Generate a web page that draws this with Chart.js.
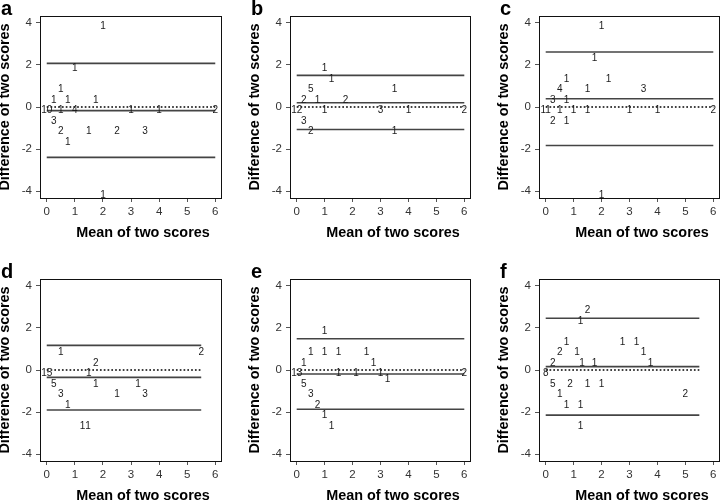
<!DOCTYPE html>
<html>
<head>
<meta charset="utf-8">
<script src="https://cdn.jsdelivr.net/npm/chart.js@4.4.1/dist/chart.umd.min.js"></script>
<style>
  body { margin: 0; background: #fff; }
  #wrap { position: relative; width: 721px; height: 501px; overflow: hidden; }
  canvas { position: absolute; }
</style>
</head>
<body>
<div id="wrap"></div>
<script>
// axis ticks shared by all six panels
const xTicks = [0, 1, 2, 3, 4, 5, 6];
const yTicks = [-4, -2, 0, 2, 4];

// panel a
const aMean  = [2, 1, 0.5, 0.25, 0.75, 1.75, 0, 0.5, 1, 3, 4, 6, 0.25, 0.5, 1.5, 2.5, 3.5, 0.75, 2];
const aDiff  = [4, 2, 1, 0.5, 0.5, 0.5, 0, 0, 0, 0, 0, 0, -0.5, -1, -1, -1, -1, -1.5, -4];
const aCount = [1, 1, 1, 1, 1, 1, 10, 1, 4, 1, 1, 2, 3, 2, 1, 2, 3, 1, 1];
const aLines = [2.07, -0.17, -2.39]; // upper limit, mean, lower limit

// panel b
const bMean  = [1, 1.25, 0.5, 3.5, 0.25, 0.75, 1.75, 0, 1, 3, 4, 6, 0.25, 0.5, 3.5];
const bDiff  = [2, 1.5, 1, 1, 0.5, 0.5, 0.5, 0, 0, 0, 0, 0, -0.5, -1, -1];
const bCount = [1, 1, 5, 1, 2, 1, 2, 12, 1, 3, 1, 2, 3, 2, 1];
const bLines = [1.50, 0.20, -1.07];

// panel c
const cMean  = [2, 1.75, 0.75, 2.25, 0.5, 1.5, 3.5, 0.25, 0.75, 0, 0.5, 1, 1.5, 3, 4, 6, 0.25, 0.75, 2];
const cDiff  = [4, 2.5, 1.5, 1.5, 1, 1, 1, 0.5, 0.5, 0, 0, 0, 0, 0, 0, 0, -0.5, -0.5, -4];
const cCount = [1, 1, 1, 1, 4, 1, 3, 3, 1, 11, 1, 1, 1, 1, 1, 2, 2, 1, 1];
const cLines = [2.61, 0.39, -1.83];

// panel d
const dMean  = [0.5, 5.5, 1.75, 0, 1.5, 0.25, 1.75, 3.25, 0.5, 2.5, 3.5, 0.75, 1.27, 1.47];
const dDiff  = [1, 1, 0.5, 0, 0, -0.5, -0.5, -0.5, -1, -1, -1, -1.5, -2.5, -2.5];
const dCount = [1, 2, 2, 15, 1, 5, 1, 1, 3, 1, 3, 1, 1, 1];
const dLines = [1.17, -0.35, -1.90];

// panel e
const eMean  = [1, 0.5, 1, 1.5, 2.5, 0.25, 2.75, 0, 1.5, 2.125, 3, 6, 3.25, 0.25, 0.5, 0.75, 1, 1.25];
const eDiff  = [2, 1, 1, 1, 1, 0.5, 0.5, 0, 0, 0, 0, 0, -0.25, -0.5, -1, -1.5, -2, -2.5];
const eCount = [1, 1, 1, 1, 1, 1, 1, 13, 1, 1, 1, 2, 1, 5, 3, 2, 1, 1];
const eLines = [1.48, -0.19, -1.86];

// panel f
const fMean  = [1.5, 1.25, 0.75, 2.75, 3.25, 0.5, 1.125, 3.5, 0.25, 1.3, 1.75, 3.75, 0, 0.25, 0.875, 1.5, 2, 0.5, 5, 0.75, 1.25, 1.25];
const fDiff  = [3, 2.5, 1.5, 1.5, 1.5, 1, 1, 1, 0.5, 0.5, 0.5, 0.5, 0, -0.5, -0.5, -0.5, -0.5, -1, -1, -1.5, -1.5, -2.5];
const fCount = [2, 1, 1, 1, 1, 2, 1, 1, 2, 1, 1, 1, 8, 5, 2, 1, 1, 1, 2, 1, 1, 1];
const fLines = [2.46, 0.16, -2.14];

const xTitle = 'Mean of two scores';
const yTitle = 'Difference of two scores';

// where each panel sits; box = chart area [left, top, right, bottom] inside its canvas
const panels = [
  { letter: 'a', mean: aMean, diff: aDiff, count: aCount, lines: aLines, xEnd: 6,   left: 0,   top: 0,   w: 240, h: 250, box: [40, 16, 222, 198] },
  { letter: 'b', mean: bMean, diff: bDiff, count: bCount, lines: bLines, xEnd: 6,   left: 240, top: 0,   w: 240, h: 250, box: [50, 16, 231, 198] },
  { letter: 'c', mean: cMean, diff: cDiff, count: cCount, lines: cLines, xEnd: 6,   left: 480, top: 0,   w: 241, h: 250, box: [59, 16, 240, 198] },
  { letter: 'd', mean: dMean, diff: dDiff, count: dCount, lines: dLines, xEnd: 5.5, left: 0,   top: 250, w: 240, h: 251, box: [40, 29, 222, 211] },
  { letter: 'e', mean: eMean, diff: eDiff, count: eCount, lines: eLines, xEnd: 6,   left: 240, top: 250, w: 240, h: 251, box: [50, 29, 231, 211] },
  { letter: 'f', mean: fMean, diff: fDiff, count: fCount, lines: fLines, xEnd: 5.5, left: 480, top: 250, w: 241, h: 251, box: [59, 29, 240, 211] }
];

const FONT = "'Liberation Sans', Arial, sans-serif";
const LINE_COLOR = '#444';

// frame around the plotting region
const boxPlugin = {
  id: 'boxFrame',
  afterDraw(chart) {
    const a = chart.chartArea;
    const ctx = chart.ctx;
    ctx.save();
    ctx.strokeStyle = '#111';
    ctx.lineWidth = 1;
    ctx.strokeRect(Math.round(a.left) + 0.5, Math.round(a.top) + 0.5, Math.round(a.right - a.left) - 1, Math.round(a.bottom - a.top));
    ctx.restore();
  }
};

// count numbers printed at each point
const countPlugin = {
  id: 'countLabels',
  afterDatasetsDraw(chart) {
    const ctx = chart.ctx;
    chart.data.datasets.forEach(function (ds, di) {
      if (!ds.counts) return;
      const meta = chart.getDatasetMeta(di);
      ctx.save();
      ctx.font = '10px ' + FONT;
      ctx.fillStyle = '#1a1a1a';
      ctx.textAlign = 'center';
      ctx.textBaseline = 'alphabetic';
      meta.data.forEach(function (el, i) {
        ctx.fillText(String(ds.counts[i]), el.x, el.y + 6.3);
      });
      ctx.restore();
    });
  }
};

// panel letter and the two axis titles
const textPlugin = {
  id: 'panelText',
  afterDraw(chart) {
    const a = chart.chartArea;
    const ctx = chart.ctx;
    const letter = chart.options.plugins.panelText.letter;
    ctx.save();
    ctx.fillStyle = '#000';
    ctx.font = 'bold 20px ' + FONT;
    ctx.textAlign = 'left';
    ctx.textBaseline = 'alphabetic';
    ctx.fillText(letter, a.left - 39, a.top - 1);

    ctx.font = 'bold 14.4px ' + FONT;
    ctx.textAlign = 'center';
    ctx.fillText(xTitle, a.left + 103, a.bottom + 39);

    ctx.translate(a.left - 35, (a.top + a.bottom) / 2);
    ctx.rotate(-Math.PI / 2);
    ctx.textBaseline = 'middle';
    ctx.fillText(yTitle, 0, 0);
    ctx.restore();
  }
};

function hLine(y, xEnd, dashed) {
  return {
    type: 'line',
    data: [{ x: 0, y: y }, { x: xEnd, y: y }],
    borderColor: dashed ? '#000' : LINE_COLOR,
    borderWidth: dashed ? 1.3 : 1.6,
    borderDash: dashed ? [1.7, 2.1] : [],
    pointRadius: 0,
    fill: false
  };
}

function makePanel(p) {
  const canvas = document.createElement('canvas');
  canvas.width = p.w;
  canvas.height = p.h;
  canvas.style.left = p.left + 'px';
  canvas.style.top = p.top + 'px';
  canvas.style.width = p.w + 'px';
  canvas.style.height = p.h + 'px';
  document.getElementById('wrap').appendChild(canvas);

  const points = p.mean.map(function (m, i) { return { x: m, y: p.diff[i] }; });
  const tickFont = { family: FONT, size: 11.5 };

  new Chart(canvas.getContext('2d'), {
    type: 'scatter',
    data: {
      datasets: [
        hLine(0, p.xEnd, true),
        hLine(p.lines[0], p.xEnd, false),
        hLine(p.lines[1], p.xEnd, false),
        hLine(p.lines[2], p.xEnd, false),
        { data: points, counts: p.count, pointRadius: 0, pointHoverRadius: 0 }
      ]
    },
    options: {
      responsive: false,
      animation: false,
      devicePixelRatio: 1,
      layout: { padding: { left: 0, top: p.box[1], right: p.w - p.box[2], bottom: 0 } },
      plugins: {
        legend: { display: false },
        tooltip: { enabled: false },
        panelText: { letter: p.letter }
      },
      scales: {
        x: {
          type: 'linear',
          min: -0.24,
          max: 6.24,
          afterBuildTicks: function (s) { s.ticks = xTicks.map(function (v) { return { value: v }; }); },
          afterFit: function (s) { s.height = p.h - p.box[3]; },
          border: { display: false },
          grid: { drawOnChartArea: false, drawTicks: true, tickLength: 4, color: '#555' },
          ticks: { font: tickFont, color: '#333', padding: 3, maxRotation: 0, minRotation: 0, autoSkip: false }
        },
        y: {
          type: 'linear',
          min: -4.32,
          max: 4.32,
          afterBuildTicks: function (s) { s.ticks = yTicks.map(function (v) { return { value: v }; }); },
          afterFit: function (s) { s.width = p.box[0]; },
          border: { display: false },
          grid: { drawOnChartArea: false, drawTicks: true, tickLength: 4, color: '#555' },
          ticks: { font: Object.assign({ lineHeight: 1 }, tickFont), color: '#333', padding: 4, autoSkip: false }
        }
      }
    },
    plugins: [boxPlugin, countPlugin, textPlugin]
  });
}

panels.forEach(makePanel);
</script>
</body>
</html>
